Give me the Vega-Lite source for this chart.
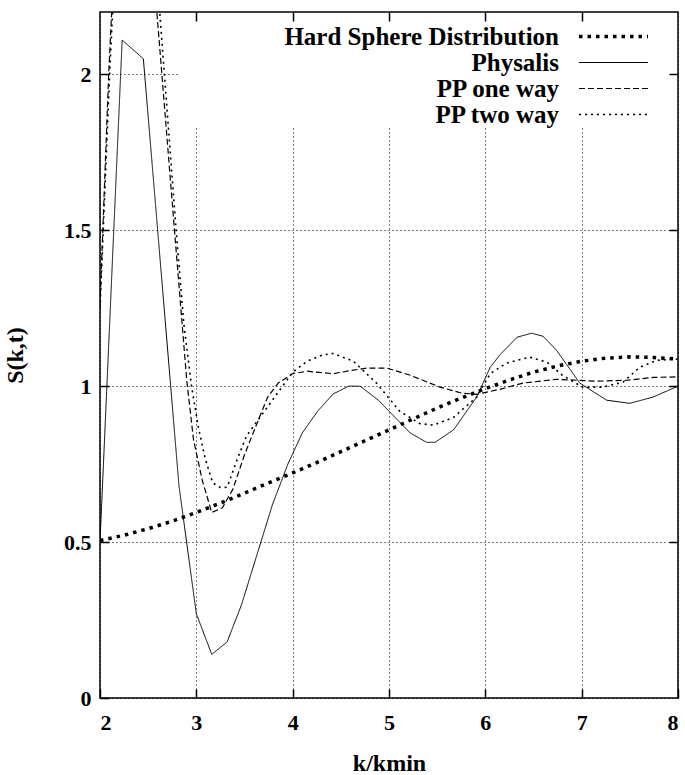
{
  "$schema": "https://vega.github.io/schema/vega-lite/v6.json",
  "width": 578,
  "height": 686,
  "autosize": {"type": "none"},
  "padding": {"left": 100, "top": 12, "right": 7, "bottom": 77},
  "background": "white",
  "config": {
    "view": {"stroke": "black", "strokeWidth": 1.5},
    "font": "Liberation Serif",
    "axis": {
      "labelFont": "Liberation Serif",
      "labelFontWeight": "bold",
      "labelFontSize": 22,
      "labelColor": "black",
      "titleFont": "Liberation Serif",
      "titleFontWeight": "bold",
      "titleFontSize": 24,
      "titleColor": "black",
      "tickColor": "black",
      "tickWidth": 1.5,
      "tickSize": -9,
      "domain": false,
      "gridColor": "black",
      "gridDash": [1, 3],
      "gridWidth": 1,
      "gridOpacity": 1
    }
  },
  "datasets": {
    "curves": [
      {"series": "Hard Sphere Distribution", "k": 2.0, "S": 0.505},
      {"series": "Hard Sphere Distribution", "k": 2.25, "S": 0.522},
      {"series": "Hard Sphere Distribution", "k": 2.5, "S": 0.543},
      {"series": "Hard Sphere Distribution", "k": 2.75, "S": 0.567},
      {"series": "Hard Sphere Distribution", "k": 3.0, "S": 0.595},
      {"series": "Hard Sphere Distribution", "k": 3.25, "S": 0.625},
      {"series": "Hard Sphere Distribution", "k": 3.5, "S": 0.657},
      {"series": "Hard Sphere Distribution", "k": 3.75, "S": 0.69},
      {"series": "Hard Sphere Distribution", "k": 4.0, "S": 0.722},
      {"series": "Hard Sphere Distribution", "k": 4.25, "S": 0.755},
      {"series": "Hard Sphere Distribution", "k": 4.5, "S": 0.79},
      {"series": "Hard Sphere Distribution", "k": 4.75, "S": 0.825},
      {"series": "Hard Sphere Distribution", "k": 5.0, "S": 0.86},
      {"series": "Hard Sphere Distribution", "k": 5.25, "S": 0.895},
      {"series": "Hard Sphere Distribution", "k": 5.5, "S": 0.93},
      {"series": "Hard Sphere Distribution", "k": 5.75, "S": 0.962},
      {"series": "Hard Sphere Distribution", "k": 6.0, "S": 0.992},
      {"series": "Hard Sphere Distribution", "k": 6.25, "S": 1.02},
      {"series": "Hard Sphere Distribution", "k": 6.5, "S": 1.045},
      {"series": "Hard Sphere Distribution", "k": 6.75, "S": 1.065},
      {"series": "Hard Sphere Distribution", "k": 7.0, "S": 1.08},
      {"series": "Hard Sphere Distribution", "k": 7.25, "S": 1.09},
      {"series": "Hard Sphere Distribution", "k": 7.5, "S": 1.094},
      {"series": "Hard Sphere Distribution", "k": 7.75, "S": 1.092},
      {"series": "Hard Sphere Distribution", "k": 8.0, "S": 1.087},

      {"series": "Physalis", "k": 2.0, "S": 0.5},
      {"series": "Physalis", "k": 2.23, "S": 2.11},
      {"series": "Physalis", "k": 2.45, "S": 2.05},
      {"series": "Physalis", "k": 2.82, "S": 0.68},
      {"series": "Physalis", "k": 3.0, "S": 0.27},
      {"series": "Physalis", "k": 3.16, "S": 0.14},
      {"series": "Physalis", "k": 3.32, "S": 0.18},
      {"series": "Physalis", "k": 3.47, "S": 0.3},
      {"series": "Physalis", "k": 3.63, "S": 0.46},
      {"series": "Physalis", "k": 3.79, "S": 0.62},
      {"series": "Physalis", "k": 3.95, "S": 0.75},
      {"series": "Physalis", "k": 4.1, "S": 0.85},
      {"series": "Physalis", "k": 4.26, "S": 0.92},
      {"series": "Physalis", "k": 4.42, "S": 0.975},
      {"series": "Physalis", "k": 4.58, "S": 1.0},
      {"series": "Physalis", "k": 4.7, "S": 1.0},
      {"series": "Physalis", "k": 4.89, "S": 0.955},
      {"series": "Physalis", "k": 5.0, "S": 0.92},
      {"series": "Physalis", "k": 5.22, "S": 0.85},
      {"series": "Physalis", "k": 5.39, "S": 0.82},
      {"series": "Physalis", "k": 5.48, "S": 0.82},
      {"series": "Physalis", "k": 5.67, "S": 0.86},
      {"series": "Physalis", "k": 5.91, "S": 0.965},
      {"series": "Physalis", "k": 6.05, "S": 1.06},
      {"series": "Physalis", "k": 6.15, "S": 1.1},
      {"series": "Physalis", "k": 6.33, "S": 1.157},
      {"series": "Physalis", "k": 6.48, "S": 1.17},
      {"series": "Physalis", "k": 6.6, "S": 1.16},
      {"series": "Physalis", "k": 6.74, "S": 1.115},
      {"series": "Physalis", "k": 6.98, "S": 1.01},
      {"series": "Physalis", "k": 7.26, "S": 0.955},
      {"series": "Physalis", "k": 7.5, "S": 0.945},
      {"series": "Physalis", "k": 7.74, "S": 0.965},
      {"series": "Physalis", "k": 8.0, "S": 1.0},

      {"series": "PP one way", "k": 2.0, "S": 1.26},
      {"series": "PP one way", "k": 2.09, "S": 2.0},
      {"series": "PP one way", "k": 2.2, "S": 2.7},
      {"series": "PP one way", "k": 2.35, "S": 2.95},
      {"series": "PP one way", "k": 2.5, "S": 2.6},
      {"series": "PP one way", "k": 2.59, "S": 2.2},
      {"series": "PP one way", "k": 2.76, "S": 1.55},
      {"series": "PP one way", "k": 2.9, "S": 1.02},
      {"series": "PP one way", "k": 2.97, "S": 0.83},
      {"series": "PP one way", "k": 3.06, "S": 0.7},
      {"series": "PP one way", "k": 3.16, "S": 0.595},
      {"series": "PP one way", "k": 3.27, "S": 0.61},
      {"series": "PP one way", "k": 3.38, "S": 0.67},
      {"series": "PP one way", "k": 3.5, "S": 0.78},
      {"series": "PP one way", "k": 3.59, "S": 0.85},
      {"series": "PP one way", "k": 3.74, "S": 0.965},
      {"series": "PP one way", "k": 3.85, "S": 1.01},
      {"series": "PP one way", "k": 4.0, "S": 1.04},
      {"series": "PP one way", "k": 4.15, "S": 1.048},
      {"series": "PP one way", "k": 4.42, "S": 1.04},
      {"series": "PP one way", "k": 4.6, "S": 1.05},
      {"series": "PP one way", "k": 4.77, "S": 1.058},
      {"series": "PP one way", "k": 4.98, "S": 1.058},
      {"series": "PP one way", "k": 5.22, "S": 1.035},
      {"series": "PP one way", "k": 5.53, "S": 0.997},
      {"series": "PP one way", "k": 5.75, "S": 0.978},
      {"series": "PP one way", "k": 5.91, "S": 0.974},
      {"series": "PP one way", "k": 6.15, "S": 0.99},
      {"series": "PP one way", "k": 6.39, "S": 1.01},
      {"series": "PP one way", "k": 6.74, "S": 1.022},
      {"series": "PP one way", "k": 7.16, "S": 1.016},
      {"series": "PP one way", "k": 7.47, "S": 1.019},
      {"series": "PP one way", "k": 7.74, "S": 1.028},
      {"series": "PP one way", "k": 8.0, "S": 1.03},

      {"series": "PP two way", "k": 2.0, "S": 1.25},
      {"series": "PP two way", "k": 2.1, "S": 2.0},
      {"series": "PP two way", "k": 2.2, "S": 2.65},
      {"series": "PP two way", "k": 2.35, "S": 2.9},
      {"series": "PP two way", "k": 2.5, "S": 2.55},
      {"series": "PP two way", "k": 2.62, "S": 2.2},
      {"series": "PP two way", "k": 2.79, "S": 1.5},
      {"series": "PP two way", "k": 2.87, "S": 1.2},
      {"series": "PP two way", "k": 2.95, "S": 1.0},
      {"series": "PP two way", "k": 3.02, "S": 0.87},
      {"series": "PP two way", "k": 3.09, "S": 0.77},
      {"series": "PP two way", "k": 3.17, "S": 0.69},
      {"series": "PP two way", "k": 3.25, "S": 0.675},
      {"series": "PP two way", "k": 3.32, "S": 0.676},
      {"series": "PP two way", "k": 3.43, "S": 0.77},
      {"series": "PP two way", "k": 3.52, "S": 0.84},
      {"series": "PP two way", "k": 3.66, "S": 0.9},
      {"series": "PP two way", "k": 3.79, "S": 0.955},
      {"series": "PP two way", "k": 4.0, "S": 1.045},
      {"series": "PP two way", "k": 4.15, "S": 1.08},
      {"series": "PP two way", "k": 4.31, "S": 1.1},
      {"series": "PP two way", "k": 4.42, "S": 1.105},
      {"series": "PP two way", "k": 4.63, "S": 1.08},
      {"series": "PP two way", "k": 4.87, "S": 1.01},
      {"series": "PP two way", "k": 5.11, "S": 0.92},
      {"series": "PP two way", "k": 5.32, "S": 0.88},
      {"series": "PP two way", "k": 5.46, "S": 0.875},
      {"series": "PP two way", "k": 5.67, "S": 0.9},
      {"series": "PP two way", "k": 5.91, "S": 0.965},
      {"series": "PP two way", "k": 6.05, "S": 1.04},
      {"series": "PP two way", "k": 6.22, "S": 1.074},
      {"series": "PP two way", "k": 6.46, "S": 1.093},
      {"series": "PP two way", "k": 6.64, "S": 1.077},
      {"series": "PP two way", "k": 6.8, "S": 1.035},
      {"series": "PP two way", "k": 7.01, "S": 0.997},
      {"series": "PP two way", "k": 7.22, "S": 0.997},
      {"series": "PP two way", "k": 7.43, "S": 1.013},
      {"series": "PP two way", "k": 7.6, "S": 1.06},
      {"series": "PP two way", "k": 7.78, "S": 1.083},
      {"series": "PP two way", "k": 8.0, "S": 1.087}
    ]
  },
  "layer": [
    {
      "description": "White key box that hides the grid behind the key, plus the mirrored top and right tick marks",
      "data": {"values": [{}]},
      "mark": {"type": "rect", "color": "white"},
      "encoding": {
        "x": {
          "datum": 2.83,
          "type": "quantitative",
          "axis": {"orient": "top", "values": [3, 4, 5, 6, 7], "labels": false, "title": null, "grid": false, "zindex": 1}
        },
        "x2": {"datum": 7.99},
        "y": {
          "datum": 1.83,
          "type": "quantitative",
          "axis": {"orient": "right", "values": [0.5, 1, 1.5, 2], "labels": false, "title": null, "grid": false, "zindex": 1}
        },
        "y2": {"datum": 2.196}
      }
    },
    {
      "data": {"name": "curves"},
      "mark": {"type": "line", "clip": true, "color": "black", "strokeCap": "butt", "strokeJoin": "round"},
      "encoding": {
        "x": {
          "field": "k",
          "type": "quantitative",
          "scale": {"domain": [2, 8], "nice": false, "zero": false},
          "axis": {"orient": "bottom", "values": [2, 3, 4, 5, 6, 7, 8], "format": "d", "title": "k/kmin", "grid": true, "labelPadding": 23, "titleY": 65, "titleBaseline": "middle"}
        },
        "y": {
          "field": "S",
          "type": "quantitative",
          "scale": {"domain": [0, 2.2], "nice": false},
          "axis": {"orient": "left", "values": [0, 0.5, 1, 1.5, 2], "format": "~g", "title": "S(k,t)", "grid": true, "labelPadding": 18, "titleX": -85, "titleY": 343, "titleAngle": -90, "titleAlign": "center", "titleBaseline": "middle"}
        },
        "strokeDash": {
          "field": "series",
          "type": "nominal",
          "scale": {
            "domain": ["Hard Sphere Distribution", "Physalis", "PP one way", "PP two way"],
            "range": [[3.5, 5], [1, 0], [6, 3], [2, 4]]
          },
          "legend": {
            "orient": "none", "legendX": 501, "legendY": 12, "title": null,
            "symbolType": "M-3.45,0H3.45", "symbolSize": 400, "symbolStrokeColor": "black",
            "labelFont": "Liberation Serif", "labelFontWeight": "bold", "labelFontSize": 25, "labelColor": "black",
            "labelAlign": "right", "labelOffset": -67, "labelLimit": 0, "rowPadding": -0.5, "padding": 0
          }
        },
        "strokeWidth": {
          "field": "series",
          "type": "nominal",
          "scale": {
            "type": "ordinal",
            "domain": ["Hard Sphere Distribution", "Physalis", "PP one way", "PP two way"],
            "range": [3.5, 1, 1.2, 1.6]
          },
          "legend": {
            "orient": "none", "legendX": 501, "legendY": 12, "title": null,
            "symbolType": "M-3.45,0H3.45", "symbolSize": 400, "symbolStrokeColor": "black",
            "labelFont": "Liberation Serif", "labelFontWeight": "bold", "labelFontSize": 25, "labelColor": "black",
            "labelAlign": "right", "labelOffset": -67, "labelLimit": 0, "rowPadding": -0.5, "padding": 0
          }
        }
      }
    }
  ]
}
